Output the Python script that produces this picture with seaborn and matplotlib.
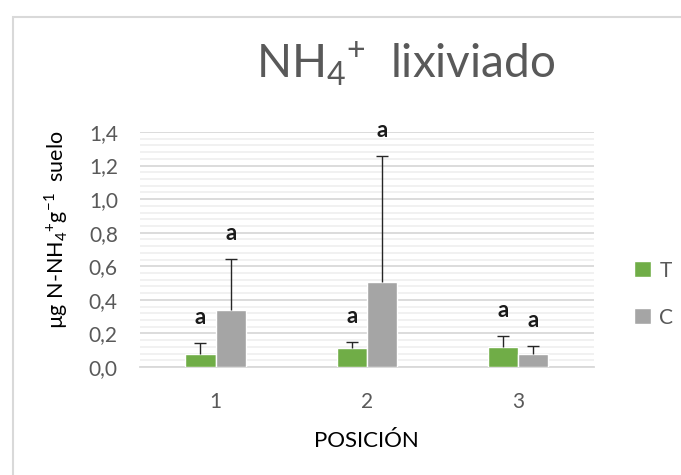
import numpy as np
import pandas as pd
import seaborn as sns
import matplotlib.pyplot as plt
from matplotlib.patches import Rectangle
from matplotlib.ticker import MultipleLocator, FuncFormatter

# valeurs
posiciones = ["1", "2", "3"]
tratamientos = ["T", "C"]
media_T = [0.077, 0.113, 0.117]
error_T = [0.064, 0.038, 0.068]
media_C = [0.340, 0.508, 0.077]
error_C = [0.305, 0.751, 0.048]
letras_T = ["a", "a", "a"]
letras_C = ["a", "a", "a"]
colores = ["#70ad47", "#a5a5a5"]

df = pd.DataFrame({
    "POSICIÓN": posiciones * 2,
    "trat": ["T"] * 3 + ["C"] * 3,
    "valor": media_T + media_C,
})

sns.set_style("white")
plt.rcParams["font.family"] = ["Lato", "DejaVu Sans"]
plt.rcParams["mathtext.fontset"] = "custom"
plt.rcParams["mathtext.rm"] = "Lato"

fig = plt.figure(figsize=(6.81, 4.75), dpi=100)
ax = fig.add_axes([0.2056, 0.2274, 0.666, 0.4947])

# cadre gris autour du graphique (coupé à droite et en bas)
fig.patches.append(Rectangle((13 / 681, -0.2), 1.2, 1.2 - 17 / 475,
                             transform=fig.transFigure, fill=False,
                             edgecolor="#d9d9d9", lw=1.5))

sns.barplot(data=df, x="POSICIÓN", y="valor", hue="trat", order=posiciones,
            hue_order=tratamientos, palette=colores, errorbar=None,
            width=0.4, saturation=1, ax=ax, zorder=3)

# barres d'erreur uniquement vers le haut + lettres
for cont, err, med, letras in zip(ax.containers, [error_T, error_C],
                                  [media_T, media_C], [letras_T, letras_C]):
    xs = [b.get_x() + b.get_width() / 2 for b in cont]
    _, caps, _ = ax.errorbar(xs, med, yerr=[np.zeros(3), err], fmt="none",
                             ecolor="#262626", elinewidth=1, capsize=4,
                             capthick=1, zorder=4)
    caps[0].set_visible(False)
    for x, m, e, l in zip(xs, med, err, letras):
        ax.text(x, m + e + 0.09, l, ha="center", va="bottom", fontsize=16,
                fontweight="bold", color="#1a1a1a")

ax.set_ylim(0, 1.4)
ax.set_xlim(-0.5, 2.5)
ax.yaxis.set_major_locator(MultipleLocator(0.2))
ax.yaxis.set_minor_locator(MultipleLocator(0.04))
ax.yaxis.set_major_formatter(FuncFormatter(lambda v, p: f"{v:.1f}".replace(".", ",")))
ax.grid(axis="y", which="major", color="#d9d9d9", lw=1.3, zorder=0)
ax.grid(axis="y", which="minor", color="#f0f0f0", lw=1.3, zorder=0)
ax.set_axisbelow(True)
for s in ["top", "right", "left"]:
    ax.spines[s].set_visible(False)
ax.spines["bottom"].set_color("#d9d9d9")
ax.spines["bottom"].set_linewidth(1.3)
ax.tick_params(axis="both", which="both", length=0, labelsize=15,
               labelcolor="#595959")
ax.tick_params(axis="x", pad=18)
ax.tick_params(axis="y", pad=16)

ax.set_xlabel("POSICIÓN", fontsize=16, color="black", labelpad=14)
ax.set_ylabel(r"µg N-NH$_\mathregular{4}$$^\mathregular{+}$g$^\mathregular{-1}$  suelo",
              fontsize=15.5, color="black")
ax.yaxis.set_label_coords(-0.155, 0.585)

fig.text(0.595, 0.865, r"NH$_\mathregular{4}$$^\mathregular{+}$  lixiviado",
         ha="center", va="center", fontsize=33, color="#595959")

ax.legend(loc="center left", bbox_to_anchor=(1.09, 0.31), frameon=False,
          fontsize=15, labelcolor="#595959", handlelength=0.8,
          handleheight=0.8, labelspacing=1.3, handletextpad=0.4,
          borderaxespad=0, borderpad=0)

fig.savefig("out.png", dpi=100)
